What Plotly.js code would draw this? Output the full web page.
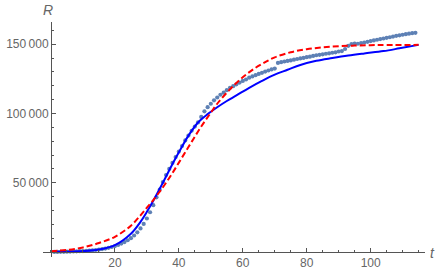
<!DOCTYPE html>
<html>
<head>
<meta charset="utf-8">
<script src="https://cdn.plot.ly/plotly-3.0.1.min.js"></script>
<style>html,body{margin:0;padding:0;background:#fff;}#chart{width:436px;height:272px;}</style>
</head>
<body>
<div id="chart"></div>
<script>
// Observed data (daily)
const dataT = [];
for (let i = 1; i <= 114; i++) dataT.push(i);
const dataR = [
  50, 80, 120, 170, 230, 300, 380, 470, 580, 700,
  850, 1000, 1200, 1450, 1750, 2100, 2500, 3000, 3600, 4300,
  5100, 6100, 7200, 8500, 10000, 11900, 14200, 17000, 20300, 24200,
  28700, 33800, 39500, 45000, 50500, 55500, 60000, 64300, 68500, 72500,
  76500, 80500, 84000, 87500, 90500, 93500, 97500, 101500, 104500, 107000,
  109500, 111500, 113500, 115000, 116800, 118500, 119700, 121000, 122300, 123500,
  124500, 125800, 126700, 127600, 128500, 129300, 130200, 131000, 131800, 132400,
  136500, 137000, 137500, 137900, 138300, 138800, 139300, 139700, 140100, 140600,
  141000, 141500, 142000, 142300, 142700, 143100, 143400, 143800, 144100, 144700,
  145000, 146500, 148800, 150000, 150500, 150300, 150700, 151200, 151700, 152200,
  152700, 153200, 153700, 154100, 154600, 155000, 155500, 156000, 156400, 156800,
  157200, 157600, 157900, 158200
];

// Blue model curve
const blueT = [0, 5, 10, 15, 20, 25, 28, 30, 32, 35, 38, 40, 43, 46, 49, 52, 55, 58, 62, 66, 70, 74, 78, 83, 88, 93, 98, 104, 109, 115];
const blueR = [100, 250, 650, 1800, 5000, 13200, 21800, 29000, 37000, 50000, 63500, 72000, 84000, 93500, 99500, 104500, 109000, 113000, 118500, 123500, 128000, 131500, 135000, 138000, 140000, 141800, 143300, 145000, 147000, 149500];

// Red dashed model curve
const redT = [0, 5, 10, 15, 20, 25, 28, 30, 32, 34, 36, 38, 40, 42, 44, 46, 48, 50, 52, 55, 58, 61, 64, 67, 70, 75, 80, 85, 90, 95, 100, 105, 115];
const redR = [600, 1500, 3300, 6500, 11000, 19000, 26500, 32000, 37500, 43500, 50000, 57000, 64500, 72000, 79500, 87000, 94000, 100500, 107000, 115000, 122000, 128000, 133000, 137000, 140500, 144200, 146400, 147700, 148500, 149000, 149300, 149400, 149500];

const xTickVals = [20, 40, 60, 80, 100];
const xTickText = ['20', '40', '60', '80', '100'];
const yTickVals = [50000, 100000, 150000];
const yTickText = ['50\u2009000', '100\u2009000', '150\u2009000'];

const xMin = -2.5, xMax = 117;
const yMin = -3600, yMax = 166000;

const traces = [
  {x: dataT, y: dataR, type: 'scatter', mode: 'markers',
   marker: {color: '#5E81B5', size: 4.2}, hoverinfo: 'skip'},
  {x: blueT, y: blueR, type: 'scatter', mode: 'lines', line: {color: '#0000FF', width: 2, shape: 'spline'}},
  {x: redT, y: redR, type: 'scatter', mode: 'lines', line: {color: '#FF0000', width: 2, dash: '6px,3px', shape: 'spline'}}
];

const axisColor = '#555';
const layout = {
  width: 436, height: 272,
  margin: {l: 43, r: 11, t: 22, b: 15},
  showlegend: false,
  paper_bgcolor: '#fff', plot_bgcolor: '#fff',
  font: {family: 'Liberation Sans, Arial, sans-serif', size: 12, color: '#666'},
  xaxis: {
    range: [xMin, xMax], showgrid: false, zeroline: false,
    showline: true, linecolor: axisColor, linewidth: 1,
    anchor: 'free', position: (0 - yMin) / (yMax - yMin),
    tickmode: 'array', tickvals: xTickVals, ticktext: xTickText,
    ticks: 'inside', ticklen: 4, tickcolor: axisColor,
    minor: {tickmode: 'linear', tick0: 0, dtick: 5, ticks: 'inside', ticklen: 2, tickcolor: axisColor},
    tickfont: {size: 12, color: '#666'}
  },
  yaxis: {
    range: [yMin, yMax], showgrid: false, zeroline: false,
    showline: true, linecolor: axisColor, linewidth: 1,
    anchor: 'free', position: (0 - xMin) / (xMax - xMin),
    tickmode: 'array', tickvals: yTickVals, ticktext: yTickText,
    ticks: 'inside', ticklen: 4, tickcolor: axisColor,
    minor: {tickmode: 'linear', tick0: 0, dtick: 10000, ticks: 'inside', ticklen: 2, tickcolor: axisColor},
    tickfont: {size: 12, color: '#666'}
  },
  annotations: [
    {text: '<i>R</i>', xref: 'paper', yref: 'paper', x: (48 - 43) / 382, y: (257 - 10) / 235,
     showarrow: false, font: {size: 14, color: '#666'}, xanchor: 'center', yanchor: 'middle'},
    {text: '<i>t</i>', xref: 'paper', yref: 'paper', x: (432 - 43) / 382, y: (257 - 253) / 235,
     showarrow: false, font: {size: 14, color: '#666'}, xanchor: 'center', yanchor: 'middle'}
  ]
};

Plotly.newPlot('chart', traces, layout, {displayModeBar: false, staticPlot: true});
</script>
</body>
</html>
